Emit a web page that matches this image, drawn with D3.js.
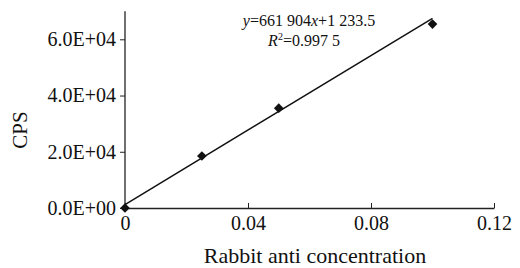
<!DOCTYPE html>
<html>
<head>
<meta charset="utf-8">
<script src="https://cdn.jsdelivr.net/npm/d3@7"></script>
<style>
  body { margin: 0; background: #fff; }
  text { font-family: "Liberation Serif", "DejaVu Serif", serif; fill: #111; }
</style>
</head>
<body>
<svg width="520" height="268"></svg>
<script>
// data
const concentration = [0, 0.025, 0.05, 0.1];
const cps = [0, 18500, 35500, 65400];
const xTicks = [0, 0.04, 0.08, 0.12];
const yTicks = [0, 20000, 40000, 60000];
const fitSlope = 661904, fitIntercept = 1233.5;
const fitRange = [0, 0.1];

const svg = d3.select("svg");

const x = d3.scaleLinear().domain([0, 0.12]).range([125, 494]);
const y = d3.scaleLinear().domain([0, 60000]).range([208, 39.3]);
const yTop = y(70000);

// E+ style labels like the spreadsheet output
const sci = d => {
  const e = d === 0 ? 0 : Math.floor(Math.log10(d));
  const m = d === 0 ? 0 : d / Math.pow(10, e);
  return m.toFixed(1) + "E+" + String(e).padStart(2, "0");
};

// y axis
const yAxis = svg.append("g")
  .attr("transform", "translate(125,0)")
  .call(d3.axisLeft(y).tickValues(yTicks).tickSize(5).tickPadding(4).tickFormat(sci));
yAxis.select(".domain").remove();
svg.append("line")
  .attr("x1", 125).attr("x2", 125).attr("y1", yTop).attr("y2", 208)
  .attr("stroke", "#222").attr("stroke-width", 1.3);
yAxis.selectAll("text").style("font-size", "20px");

// x axis, ticks point up into the plot
const xAxis = svg.append("g")
  .attr("transform", "translate(0,208)")
  .call(d3.axisBottom(x).tickValues(xTicks).tickSizeInner(-5).tickSizeOuter(0).tickPadding(8)
    .tickFormat(d => d === 0 ? "0" : d3.format(".2f")(d)));
xAxis.select(".domain").attr("stroke", "#222").attr("stroke-width", 1.3);
xAxis.selectAll(".tick line").attr("stroke", "#222");
yAxis.selectAll(".tick line").attr("stroke", "#222");
xAxis.selectAll("text").style("font-size", "20px");

// fit line
svg.append("path")
  .datum(fitRange)
  .attr("fill", "none")
  .attr("stroke", "#111")
  .attr("stroke-width", 1.5)
  .attr("d", d3.line().x(d => x(d)).y(d => y(fitSlope * d + fitIntercept)));

// diamond markers
svg.selectAll(".pt")
  .data(concentration.map((c, i) => ({c, v: cps[i]})))
  .enter().append("path")
  .attr("class", "pt")
  .attr("transform", d => `translate(${x(d.c)},${y(d.v)})`)
  .attr("d", d3.symbol(d3.symbolDiamond2, 60))
  .attr("fill", "#111");

// equation
const eq = svg.append("text").attr("x", 309).attr("y", 26)
  .attr("text-anchor", "middle").style("font-size", "16px");
eq.append("tspan").attr("font-style", "italic").text("y");
eq.append("tspan").text("=661 904");
eq.append("tspan").attr("font-style", "italic").text("x");
eq.append("tspan").text("+1 233.5");

const r2 = svg.append("text").attr("x", 304).attr("y", 46)
  .attr("text-anchor", "middle").style("font-size", "16px");
r2.append("tspan").attr("font-style", "italic").text("R");
r2.append("tspan").attr("dy", -6).style("font-size", "10px").text("2");
r2.append("tspan").attr("dy", 6).text("=0.997 5");

// axis titles
svg.append("text").attr("x", 315).attr("y", 263)
  .attr("text-anchor", "middle").style("font-size", "22px")
  .text("Rabbit anti concentration");
svg.append("text")
  .attr("transform", "translate(27,130) rotate(-90)")
  .attr("text-anchor", "middle").style("font-size", "21px")
  .text("CPS");
</script>
</body>
</html>
